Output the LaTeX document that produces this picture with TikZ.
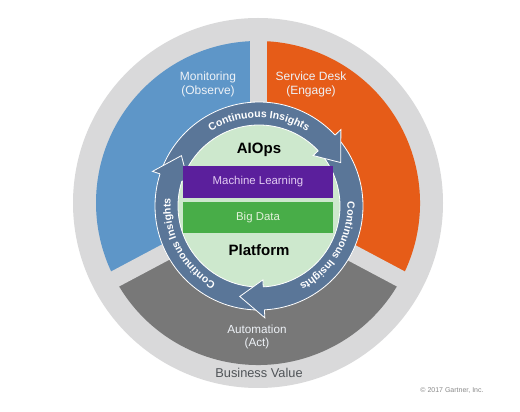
\documentclass[tikz,border=0pt]{standalone}
\usepackage{fontspec}
\setmainfont{Liberation Sans}
\usetikzlibrary{decorations.text,calc}
\definecolor{outergrey}{HTML}{D9D9DA}
\definecolor{secblue}{HTML}{5E96C8}
\definecolor{secorange}{HTML}{E65C18}
\definecolor{secgrey}{HTML}{787878}
\definecolor{ringblue}{HTML}{5A7698}
\definecolor{innergreen}{HTML}{CDE8CD}
\definecolor{mlpurple}{HTML}{5B1F9C}
\definecolor{mltext}{HTML}{E2CCF2}
\definecolor{bdgreen}{HTML}{48AD48}
\definecolor{bdtext}{HTML}{E4F2DC}
\definecolor{labeltext}{HTML}{EEF2F7}
\definecolor{bvtext}{HTML}{505458}
\definecolor{copytext}{HTML}{8A8A8A}
\newcommand\ringtxt{\color{white}\fontsize{10.5}{12}\selectfont\bfseries}
\tikzset{
  seclabel/.style={text=labeltext, align=center, font=\fontsize{12}{14}\selectfont, inner sep=0},
  barbox/.style={minimum width=150, minimum height=32, inner sep=0, font=\fontsize{11.4}{13}\selectfont},
  bigword/.style={font=\fontsize{15}{17}\selectfont\bfseries, text=black, inner sep=0},
  ringlabel/.style={decorate, decoration={text along path, text align=center, text={|\ringtxt|#1}}}
}
\begin{document}
\begin{tikzpicture}[x=1pt,y=1pt]
\useasboundingbox (0,0) rectangle (520,412);
\fill[white] (0,0) rectangle (520,412);
\coordinate (O) at (258,209);
\coordinate (R) at (259,206);
% outer ring
\fill[outergrey] (O) circle[radius=185];
% sectors
\fill[secblue] (O) -- ++(90:162) arc[start angle=90,end angle=208,radius=162] -- cycle;
\fill[secgrey] (O) -- ++(208:162) arc[start angle=208,end angle=332,radius=162] -- cycle;
\fill[secorange] (O) -- ++(332:162) arc[start angle=332,end angle=450,radius=162] -- cycle;
\foreach \a in {90,208,332} \draw[outergrey, line width=17] (O) -- ++(\a:168);
% ring and inner disc
\fill[ringblue, draw=white, line width=0.8] (R) circle[radius=104];
\fill[innergreen, draw=white, line width=0.8] (R) circle[radius=81];
% arrowheads
\foreach \e/\t in {43/28,162/147,273/258}{
  \fill[ringblue] ($(R)+(\e:103.5)$) -- ($(R)+(\e:112)$) -- ($(R)+(\t:92.5)$) -- ($(R)+(\e:74)$) -- ($(R)+(\e:81.5)$) -- cycle;
  \draw[white, line width=0.8, line join=miter] ($(R)+(\e:104)$) -- ($(R)+(\e:112)$) -- ($(R)+(\t:92.5)$) -- ($(R)+(\e:74)$) -- ($(R)+(\e:81)$);
}
% ring texts
\path[ringlabel={Continuous Insights}] ($(R)+(140:88.5)$) arc[start angle=140,end angle=40,radius=88.5];
\path[ringlabel={Continuous Insights}] ($(R)+(20:88.5)$) arc[start angle=20,end angle=-80,radius=88.5];
\path[ringlabel={Continuous Insights}] ($(R)+(258:88.5)$) arc[start angle=258,end angle=158,radius=88.5];
% inner content
\node[bigword] (aiops) at (259,262) {AIOps};
\node[barbox, fill=mlpurple, text=mltext] (ml) at (258,230) {Machine Learning};
\node[barbox, fill=bdgreen, text=bdtext, minimum height=31] (bd) at (258,194.5) {Big Data};
\node[bigword] (platform) at (259,162) {Platform};
% sector labels
\node[seclabel] (mon) at (208,328) {Monitoring\\(Observe)};
\node[seclabel] (sd) at (311,328) {Service Desk\\(Engage)};
\node[seclabel, font=\fontsize{11.7}{13}\selectfont] (auto) at (257,75) {Automation\\(Act)};
\node[text=bvtext, font=\fontsize{12.8}{15}\selectfont, inner sep=0] (bv) at (259,39) {Business Value};
\node[text=copytext, font=\fontsize{7}{8}\selectfont, inner sep=0] (copy) at (452,21) {© 2017 Gartner, Inc.};
\end{tikzpicture}
\end{document}
